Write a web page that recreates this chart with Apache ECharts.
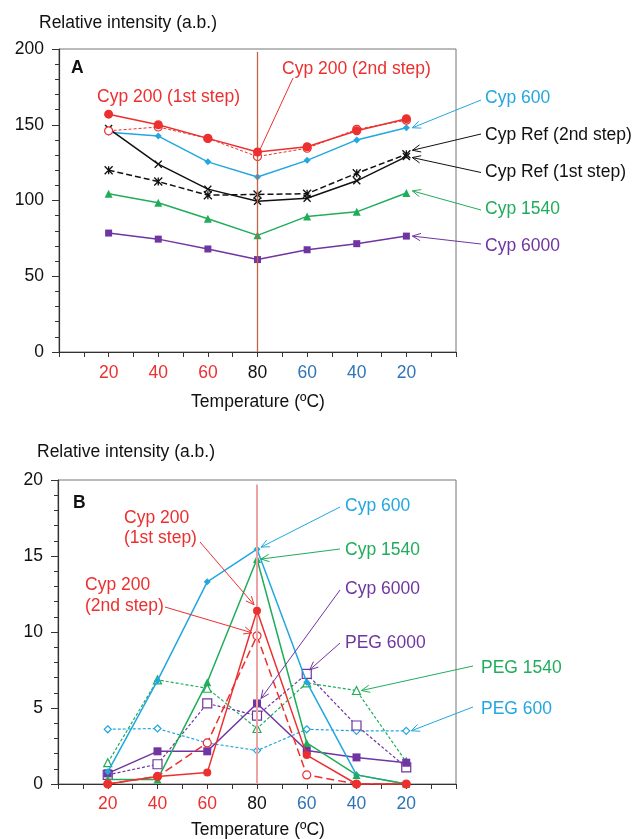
<!DOCTYPE html>
<html>
<head>
<meta charset="utf-8">
<script src="https://cdn.jsdelivr.net/npm/echarts@6/dist/echarts.min.js"></script>
<style>
html,body{margin:0;padding:0;background:#fff;}
#c{width:636px;height:839px;}
</style>
</head>
<body>
<div id="c"></div>
<script>
// ---------- data ----------
const tempLabels = ['20', '40', '60', '80', '60', '40', '20'];
const tempPhase  = ['h', 'h', 'h', 'p', 'c', 'c', 'c'];

// Panel A
const cyp200FirstA  = [157, 150, 141, 132, 135.5, 146, 154];
const cyp200SecondA = [146, 148.5, 141, 129, 134.5, 147, 153];
const cyp600A       = [145, 142.5, 125.5, 115.5, 126.5, 140, 148];
const cypRefFirstA  = [147.5, 124, 107.5, 99.5, 101.5, 113, 129];
const cypRefSecondA = [120, 112.5, 103.5, 104, 104.5, 118, 130.5];
const cyp1540A      = [104.5, 98.5, 88, 77, 89.5, 92.5, 105];
const cyp6000A      = [78.5, 74.5, 68, 61, 67.5, 71.5, 76.5];

// Panel B
const cyp600B       = [0.8, 6.8, 13.3, 15.45, 6.7, 0.6, 0];
const cyp1540B      = [0.3, 0.3, 6.7, 14.8, 2.7, 0.6, 0];
const cyp200FirstB  = [0, 0.5, 0.75, 11.4, 1.9, 0, 0];
const cyp200SecondB = [0, 0.5, 2.7, 9.75, 0.6, 0, 0];
const cyp6000B      = [0.7, 2.15, 2.15, 5.3, 2.2, 1.75, 1.4];
const peg6000B      = [0.6, 1.3, 5.3, 4.5, 7.25, 3.85, 1.1];
const peg1540B      = [1.4, 6.85, 6.3, 3.65, 6.65, 6.15, 1.45];
const peg600B       = [3.6, 3.65, 2.7, 2.2, 3.6, 3.5, 3.5];

// ---------- styles ----------
const RED = '#ec2f2f', BLUE = '#22a7df', GREEN = '#20ad5a', PURPLE = '#6f35a2', BLACK = '#111111';
const XBLUE = '#2f74b8';
const FONT = 'Liberation Sans, Arial, sans-serif';
const FS = 17.5;
const X_SYM = 'path://M0,1.2L1.2,0L5,3.8L8.8,0L10,1.2L6.2,5L10,8.8L8.8,10L5,6.2L1.2,10L0,8.8L3.8,5Z';
const AST_SYM = 'path://M0,0L10,10M10,0L0,10M5,0L5,10';

function pts(arr) { return arr.map((v, i) => [i + 1, v]); }

function mk(name, data, g, color, symbol, size, filled, lineType, width, z) {
  const s = {
    name: name, type: 'line', xAxisIndex: g, yAxisIndex: g, data: pts(data),
    symbol: symbol, symbolSize: size, showSymbol: true, z: z || 2,
    lineStyle: { color: color, width: width, type: lineType },
    itemStyle: filled ? { color: color, borderColor: color, borderWidth: 0 }
                      : { color: '#ffffff', borderColor: color, borderWidth: 1.2 },
    emphasis: { disabled: true }, animation: false
  };
  return s;
}

const vLineA = { silent: true, symbol: ['none', 'none'], label: { show: false },
  lineStyle: { color: '#c4624c', width: 1.3, type: 'solid' },
  data: [[{ coord: [4, 0] }, { coord: [4, 198] }]] };
const vLineB = { silent: true, symbol: ['none', 'none'], label: { show: false },
  lineStyle: { color: '#eba3a3', width: 2, type: 'solid' },
  data: [[{ coord: [4, 0] }, { coord: [4, 19.7] }]] };

const sA = [];
const a1 = mk('Cyp 200 (1st step)', cyp200FirstA, 0, RED, 'circle', 9, true, 'solid', 1.5, 5);
a1.markLine = vLineA;
sA.push(a1);
sA.push(mk('Cyp 200 (2nd step)', cyp200SecondA, 0, RED, 'circle', 8, false, [3, 2], 1, 4));
sA.push(mk('Cyp 600', cyp600A, 0, BLUE, 'diamond', 7, true, 'solid', 1.5, 3));
const r1 = mk('Cyp Ref (1st step)', cypRefFirstA, 0, BLACK, X_SYM, 8, true, 'solid', 1.5, 3);
sA.push(r1);
const r2 = mk('Cyp Ref (2nd step)', cypRefSecondA, 0, BLACK, AST_SYM, 8, true, [6, 3], 1.5, 3);
r2.itemStyle = { color: 'none', borderColor: BLACK, borderWidth: 1.3 };
sA.push(r2);
sA.push(mk('Cyp 1540', cyp1540A, 0, GREEN, 'triangle', 8, true, 'solid', 1.5, 3));
sA.push(mk('Cyp 6000', cyp6000A, 0, PURPLE, 'rect', 7, true, 'solid', 1.5, 3));

const sB = [];
const b1 = mk('PEG 600', peg600B, 1, BLUE, 'diamond', 7, false, [3, 2], 1.2, 2);
b1.markLine = vLineB;
sB.push(b1);
sB.push(mk('PEG 1540', peg1540B, 1, GREEN, 'triangle', 8, false, [3, 2], 1.2, 2));
sB.push(mk('PEG 6000', peg6000B, 1, PURPLE, 'rect', 9, false, [3, 2], 1.2, 2));
sB.push(mk('Cyp 6000', cyp6000B, 1, PURPLE, 'rect', 8, true, 'solid', 1.5, 3));
sB.push(mk('Cyp 600', cyp600B, 1, BLUE, 'diamond', 7, true, 'solid', 1.5, 3));
sB.push(mk('Cyp 1540', cyp1540B, 1, GREEN, 'triangle', 8, true, 'solid', 1.5, 3));
sB.push(mk('Cyp 200 (2nd step)', cyp200SecondB, 1, RED, 'circle', 8, false, [8, 4], 1.5, 4));
sB.push(mk('Cyp 200 (1st step)', cyp200FirstB, 1, RED, 'circle', 8, true, 'solid', 1.5, 5));

function xAxisCfg(g, margin) {
  return {
    type: 'value', gridIndex: g, min: 0, max: 8, interval: 0.5,
    axisLine: { show: true, lineStyle: { color: '#333', width: 1.2 } },
    axisTick: { show: true, inside: false, length: 5, lineStyle: { color: '#333' } },
    splitLine: { show: false },
    axisLabel: {
      margin: margin, fontFamily: FONT, fontSize: FS, color: '#111',
      formatter: function (v) {
        const r = Math.round(v);
        if (Math.abs(v - r) > 1e-6 || r < 1 || r > 7) return '';
        return '{' + tempPhase[r - 1] + '|' + tempLabels[r - 1] + '}';
      },
      rich: {
        h: { color: RED, fontFamily: FONT, fontSize: FS },
        p: { color: '#111', fontFamily: FONT, fontSize: FS },
        c: { color: XBLUE, fontFamily: FONT, fontSize: FS }
      }
    }
  };
}
function yAxisCfg(g, max, interval) {
  return {
    type: 'value', gridIndex: g, min: 0, max: max, interval: interval,
    axisLine: { show: true, lineStyle: { color: '#333', width: 1.2 } },
    axisTick: { show: true, inside: false, length: 7, lineStyle: { color: '#333' } },
    minorTick: { show: true, splitNumber: 5, length: 4, lineStyle: { color: '#333' } },
    splitLine: { show: false },
    axisLabel: { margin: 15, fontFamily: FONT, fontSize: FS, color: '#111' }
  };
}

const chart = echarts.init(document.getElementById('c'), null, { renderer: 'canvas' });
chart.setOption({
  animation: false,
  backgroundColor: '#ffffff',
  grid: [
    { left: 59, top: 49, width: 397, height: 303, show: true, borderColor: '#777', borderWidth: 1, backgroundColor: 'transparent' },
    { left: 58, top: 480, width: 398, height: 304, show: true, borderColor: '#777', borderWidth: 1, backgroundColor: 'transparent' }
  ],
  xAxis: [xAxisCfg(0, 12), xAxisCfg(1, 11)],
  yAxis: [yAxisCfg(0, 200, 50), yAxisCfg(1, 20, 5)],
  series: sA.concat(sB)
});

// ---------- annotations (text positions are layout; arrow tips follow data points) ----------
function seriesPoint(list, name, idx, g) {
  const s = list.find(x => x.name === name);
  return chart.convertToPixel({ gridIndex: g }, s.data[idx]);
}
const gfx = [];
function txt(t, x, y, color, bold) {
  gfx.push({ type: 'text', x: x, y: y, silent: true, z: 100,
    style: { text: t, fill: color, font: (bold ? 'bold ' : '') + FS + 'px ' + FONT,
             align: 'left', verticalAlign: 'middle', textAlign: 'left', textVerticalAlign: 'middle' } });
}
function arrow(x1, y1, x2, y2, color, head) {
  gfx.push({ type: 'line', silent: true, z: 100, shape: { x1: x1, y1: y1, x2: x2, y2: y2 },
    style: { stroke: color, lineWidth: 1 } });
  if (head) {
    const ang = Math.atan2(y1 - y2, x1 - x2), L = 9, spread = 0.42;
    gfx.push({ type: 'polyline', silent: true, z: 100,
      shape: { points: [[x2 + L * Math.cos(ang + spread), y2 + L * Math.sin(ang + spread)], [x2, y2],
                        [x2 + L * Math.cos(ang - spread), y2 + L * Math.sin(ang - spread)]] },
      style: { stroke: color, lineWidth: 1, fill: null } });
  }
}
function ann(list, g, name, idx, off, from, color, head) {
  const p = seriesPoint(list, name, idx, g);
  arrow(from[0], from[1], p[0] + off[0], p[1] + off[1], color, head);
}

// Panel A texts
txt('Relative intensity (a.b.)', 39, 23, '#111');
txt('A', 71, 68, '#111', true);
txt('Cyp 200 (1st step)', 97, 97, RED);
txt('Cyp 200 (2nd step)', 282, 69, RED);
txt('Cyp 600', 485, 98, BLUE);
txt('Cyp Ref (2nd step)', 485, 135, BLACK);
txt('Cyp Ref (1st step)', 485, 172.5, BLACK);
txt('Cyp 1540', 485, 209, GREEN);
txt('Cyp 6000', 485, 246, PURPLE);
gfx.push({ type: 'text', x: 258, y: 402, silent: true, z: 100,
  style: { text: 'Temperature (ºC)', fill: '#111', font: FS + 'px ' + FONT, align: 'center', verticalAlign: 'middle', textAlign: 'center', textVerticalAlign: 'middle' } });

ann(sA, 0, 'Cyp 200 (2nd step)', 3, [2, -6], [293, 78], RED, false);
ann(sA, 0, 'Cyp 600', 6, [6, 0], [481, 100], BLUE, true);
ann(sA, 0, 'Cyp Ref (2nd step)', 6, [6, -4], [481, 134], BLACK, true);
ann(sA, 0, 'Cyp Ref (1st step)', 6, [6, 1], [481, 172.5], BLACK, true);
ann(sA, 0, 'Cyp 1540', 6, [6, -2], [481, 210], GREEN, true);
ann(sA, 0, 'Cyp 6000', 6, [6, 0], [481, 244], PURPLE, true);

// Panel B texts
txt('Relative intensity (a.b.)', 37, 452, '#111');
txt('B', 73, 503, '#111', true);
txt('Cyp 200', 124, 518, RED);
txt('(1st step)', 124, 538, RED);
txt('Cyp 200', 85, 585, RED);
txt('(2nd step)', 85, 606, RED);
txt('Cyp 600', 345, 506, BLUE);
txt('Cyp 1540', 345, 550, GREEN);
txt('Cyp 6000', 345, 589, PURPLE);
txt('PEG 6000', 345, 643, PURPLE);
txt('PEG 1540', 481, 668, GREEN);
txt('PEG 600', 481, 709, BLUE);
gfx.push({ type: 'text', x: 258, y: 830, silent: true, z: 100,
  style: { text: 'Temperature (ºC)', fill: '#111', font: FS + 'px ' + FONT, align: 'center', verticalAlign: 'middle', textAlign: 'center', textVerticalAlign: 'middle' } });

ann(sB, 1, 'Cyp 600', 3, [4, -2], [340, 507], BLUE, true);
ann(sB, 1, 'Cyp 1540', 3, [4, 0], [340, 549], GREEN, true);
ann(sB, 1, 'Cyp 6000', 3, [4, -5], [340, 590], PURPLE, true);
ann(sB, 1, 'PEG 6000', 4, [3, -4], [340, 643], PURPLE, true);
ann(sB, 1, 'PEG 1540', 5, [5, 0], [473, 666], GREEN, true);
ann(sB, 1, 'PEG 600', 6, [5, 0], [473, 707], BLUE, true);
ann(sB, 1, 'Cyp 200 (1st step)', 3, [-3, -6], [200, 542], RED, true);
ann(sB, 1, 'Cyp 200 (2nd step)', 3, [-5, -3], [165, 607], RED, true);

chart.setOption({ graphic: { elements: gfx } });
</script>
</body>
</html>
